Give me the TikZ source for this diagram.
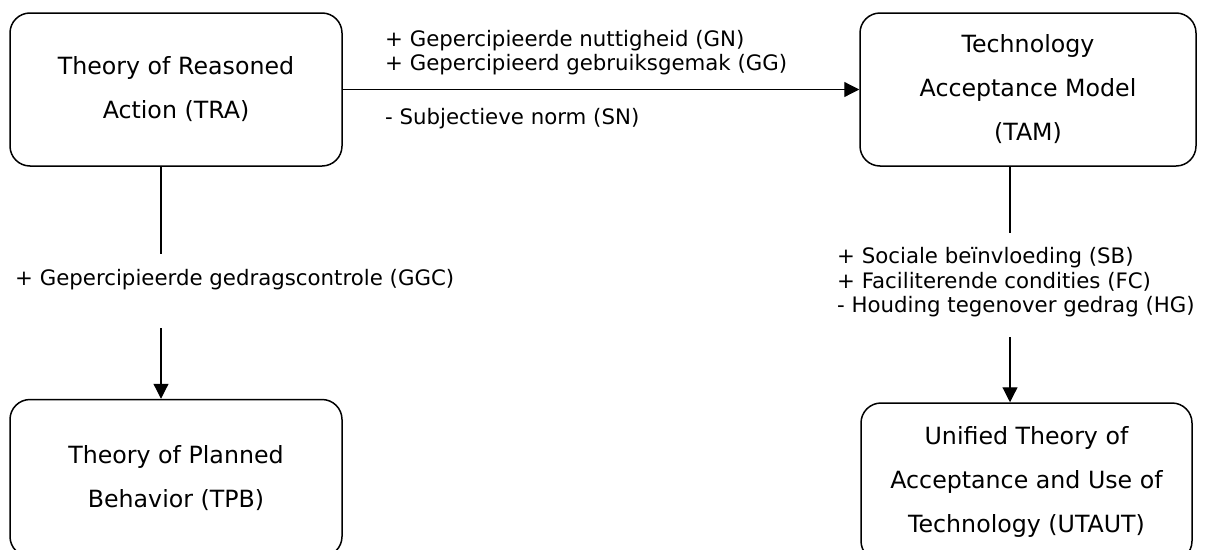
\documentclass[tikz,border=0pt]{standalone}
\usepackage{fontspec}
\setmainfont{DejaVu Sans}
\usetikzlibrary{arrows.meta}

\begin{document}
\begin{tikzpicture}[x=1pt,y=-1pt,
  box/.style={draw,line width=1.5pt,rounded corners=20pt,align=center,inner sep=0pt,font=\fontsize{23.7}{44}\selectfont},
  lab/.style={align=left,inner sep=0pt,anchor=west,font=\fontsize{21.3}{24.5}\selectfont},
  con/.style={line width=1.2pt},
  arr/.style={con,-{Triangle[length=15pt,width=15pt]}}]
\clip (0,0) rectangle (1206,549);
\node[box,minimum width=332,minimum height=153] (0) at (176,89.5) {Theory of Reasoned\\Action (TRA)};
\node[box,minimum width=336,minimum height=153] (1) at (1028,89.5) {Technology\\Acceptance Model\\(TAM)};
\node[box,minimum width=332,minimum height=157] (2) at (176,478) {Theory of Planned\\Behavior (TPB)};
\node[box,minimum width=331,minimum height=158] (3) at (1026.5,482) {Unified Theory of\\Acceptance and Use of\\Technology (UTAUT)};
\node[lab] (4) at (385,52.5) {+ Gepercipieerde nuttigheid (GN)\\+ Gepercipieerd gebruiksgemak (GG)};
\node[lab] (5) at (385,119) {- Subjectieve norm (SN)};
\node[lab] (6) at (15,280) {+ Gepercipieerde gedragscontrole (GGC)};
\node[lab] (7) at (837,282.5) {+ Sociale beïnvloeding (SB)\\+ Faciliterende condities (FC)\\- Houding tegenover gedrag (HG)};
\coordinate (a) at (161,254);
\coordinate (b) at (161,328);
\coordinate (c) at (1010,233);
\coordinate (d) at (1010,337);
\draw[arr] (0) -- (1);
\draw[con] (0.south -| a) -- (a);
\draw[arr] (b) -- (b |- 2.north);
\draw[con] (1.south -| c) -- (c);
\draw[arr] (d) -- (d |- 3.north);
\end{tikzpicture}
\end{document}
